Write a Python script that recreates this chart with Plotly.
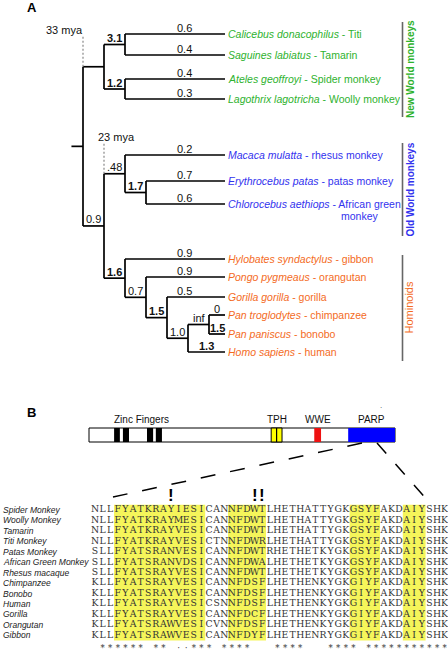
import plotly.graph_objects as go

W, H = 448, 649

# ======================= DATA =======================
# ---- Panel A: phylogeny (leaves listed top to bottom) ----
leaf_species = ["Calicebus donacophilus", "Saguines labiatus", "Ateles geoffroyi",
                "Lagothrix lagotricha", "Macaca mulatta", "Erythrocebus patas",
                "Chlorocebus aethiops", "Hylobates syndactylus", "Pongo pygmeaus",
                "Gorilla gorilla", "Pan troglodytes", "Pan paniscus", "Homo sapiens"]
leaf_common = ["Titi", "Tamarin", "Spider monkey", "Woolly monkey", "rhesus monkey",
               "patas monkey", "African green monkey", "gibbon", "orangutan", "gorilla",
               "chimpanzee", "bonobo", "human"]
leaf_clade = [0, 0, 0, 0, 1, 1, 1, 2, 2, 2, 2, 2, 2]
leaf_omega = ["0.6", "0.4", "0.4", "0.3", "0.2", "0.7", "0.6", "0.9", "0.9", "0.5", "0", "1.5", "1.3"]
leaf_omega_bold = [False] * 11 + [True, True]

clade_names = ["New World monkeys", "Old World monkeys", "Hominoids"]

# internal nodes: (omega on the branch leading to node, bold?, divergence time, children)
node_inf = ("inf", False, None, [10, 11])
node_10 = ("1.0", False, None, [node_inf, 12])
node_15 = ("1.5", True, None, [9, node_10])
node_07 = ("0.7", False, None, [8, node_15])
node_hom = ("1.6", True, None, [7, node_07])
node_17 = ("1.7", True, None, [5, 6])
node_owm = (".48", False, None, [4, node_17])
node_cat = ("0.9", False, "23 mya", [node_owm, node_hom])
node_31 = ("3.1", True, None, [0, 1])
node_12 = ("1.2", True, None, [2, 3])
node_nwm = (None, False, None, [node_31, node_12])
TREE = (None, False, "33 mya", [node_nwm, node_cat])

# ---- Panel B: domain architecture (amino-acid positions, estimated) ----
protein_length = 902
domain_labels = ["Zinc Fingers", "TPH", "WWE", "PARP"]
dom_start = [74, 100, 171, 197, 537, 664, 764]
dom_end = [91, 118, 189, 215, 569, 684, 902]
dom_kind = [0, 0, 0, 0, 1, 2, 3]

# ---- Panel B: alignment ----
align_names = ["Spider Monkey", "Woolly Monkey", "Tamarin", "Titi Monkey", "Patas Monkey",
               "African Green Monkey", "Rhesus macaque", "Chimpanzee", "Bonobo", "Human",
               "Gorilla", "Orangutan", "Gibbon"]
align_seqs = [
    "NLLFYATKRAYIESICANNFDWTLHETHATTYGKGSYFAKDAIYSHK",
    "NLLFYATKRAYMESICANNFDWTLHETHATTYGKGSYFAKDAIYSHK",
    "NLLFYATKRAYVESICANNFDWTLHETHATTYGKGSYFAKDAIYSHK",
    "NLLFYATKRAYVESICTNNFDWRLHETHATTYGKGSYFAKDAIYSHK",
    "SLLFYATSRANVESICANNFDWTRHETHETKYGKGSYFAKDAIYSHK",
    "SLLFYATSRANVDSICANNFDWALHETHETKYGKGSYFAKDAIYSHK",
    "SLLFYATSRAYVESICANNFDWTLHETHETKYGKGSYFAKDAIYSHK",
    "KLLFYATSRAYVESICANNFDSFLHETHENKYGKGIYFAKDAIYSHK",
    "KLLFYATSRAYVESICANNFDSFLHETHENKYGKGIYFAKDAIYSHK",
    "KLLFYATSRAYVESICSNNFDSFLHETHENKYGKGIYFAKDAIYSHK",
    "KLLFYATSRAYVESICANNFDCFLHETHENKYGKGIYFAKDAIYSHK",
    "KLLFYATSRAWVESICVNNFDSFLHETHENKYGKGIYFAKDAIYSHK",
    "KLLFYATSRAWVESICANNFDYFLHETHENRYGKGIYFAKDAIYSHK",
]
consensus = (" " + "******" + " " + "**" + " " + "::" + "***" + " " + "****" + "   "
             + "****" + "   " + "****" + " " + "***********")
highlight_blocks = [(4, 15), (19, 23), (35, 38), (42, 44)]
selected_sites = [11, 22, 23]

# ======================= STYLE / LAYOUT CONSTANTS =======================
SANS = "Liberation Sans, Arial, sans-serif"
SEQF = "DejaVu Serif, serif"
clade_colors = ["#2eb22e", "#3232ee", "#f46b1e"]
clade_bold = [True, True, False]
clade_bar_px = [(22, 117), (143, 236), (255, 361)]
clade_text_x = [410.5, 410, 408.5]

TREE_PX0, TREE_STEP = 83.0, 21.0        # depth 0 at px 83, 21 px per level
LEAF_TIP = (225 - TREE_PX0) / TREE_STEP
leaf_y = [34, 55, 79, 99, 155, 181, 204, 259, 277, 297, 315, 334, 352]
MYA_DX = {"33 mya": -19, "23 mya": 12}

COL_PX0, COL_STEP = 95.0, 7.6
ROW_PX0, ROW_STEP = 510.0, 10.44
AA_PX0, AA_PX1 = 89.0, 395.0
AA_STEP = (AA_PX1 - AA_PX0) / protein_length
DOM_Y0, DOM_Y1 = 428, 442

fig = go.Figure()
annotations = []
shapes = []


def ann(x, y, text, xref, yref, size, color="#111", bold=False, italic=False,
        xanchor="center", yanchor="middle", family=SANS, xshift=0, yshift=0, textangle=0):
    if italic:
        text = "<i>" + text + "</i>"
    if bold:
        text = "<b>" + text + "</b>"
    annotations.append(dict(x=x, y=y, xref=xref, yref=yref, text=text, showarrow=False,
                            font=dict(family=family, size=size, color=color),
                            xanchor=xanchor, yanchor=yanchor, xshift=xshift, yshift=yshift,
                            textangle=textangle, borderpad=0))


# ======================= PANEL A: TREE =======================
seg_x, seg_y = [], []
dot_x, dot_y = [], []


def draw(node, depth):
    label, bold, age, kids = node
    ys = []
    for k in kids:
        if isinstance(k, int):
            y = leaf_y[k]
            seg_x.extend([depth, LEAF_TIP, None]); seg_y.extend([y, y, None])
            node_px = TREE_PX0 + depth * TREE_STEP
            lx = (184 - TREE_PX0) / TREE_STEP if node_px < 180 else (depth + LEAF_TIP) / 2
            ann(lx, y, leaf_omega[k], "x2", "y", 11, bold=leaf_omega_bold[k], yshift=6)
        else:
            y = draw(k, depth + 1)
            seg_x.extend([depth, depth + 1, None]); seg_y.extend([y, y, None])
            if k[0]:
                ann(depth + 1, y, k[0], "x2", "y", 11, bold=k[1], xanchor="right",
                    xshift=-2, yshift=6.5)
        ys.append(y)
    top, bot = min(ys), max(ys)
    seg_x.extend([depth, depth, None]); seg_y.extend([top, bot, None])
    if age:
        dot_x.extend([depth, depth, None]); dot_y.extend([top, top - 30, None])
        ann(depth, top - 37, age, "x2", "y", 11, xshift=MYA_DX[age])
    return (top + bot) / 2


root_y = draw(TREE, 0)
seg_x.extend([-0.55, 0, None]); seg_y.extend([root_y, root_y, None])

fig.add_trace(go.Scatter(x=seg_x, y=seg_y, mode="lines", xaxis="x2", yaxis="y",
                         line=dict(color="black", width=1.7), hoverinfo="skip"))
fig.add_trace(go.Scatter(x=dot_x, y=dot_y, mode="lines", xaxis="x2", yaxis="y",
                         line=dict(color="#888888", width=1.2, dash="2px,2px"), hoverinfo="skip"))

# leaf names
for i, (sp, cm) in enumerate(zip(leaf_species, leaf_common)):
    col = clade_colors[leaf_clade[i]]
    full = f"<i>{sp}</i> - {cm}"
    if len(sp) + len(cm) + 3 > 40:
        first, last = cm.rsplit(" ", 1)
        ann(LEAF_TIP, leaf_y[i], f"<i>{sp}</i> - {first}", "x2", "y", 10.5, color=col,
            xanchor="left", xshift=2)
        ann(LEAF_TIP, leaf_y[i] + 12, last, "x2", "y", 10.5, color=col, xshift=135)
    else:
        ann(LEAF_TIP, leaf_y[i], full, "x2", "y", 10.5, color=col, xanchor="left", xshift=2)

# clade bars & labels
for c, name in enumerate(clade_names):
    y0, y1 = clade_bar_px[c]
    shapes.append(dict(type="line", xref="x", yref="y", x0=402.5, x1=402.5, y0=y0, y1=y1,
                       line=dict(color="#666666", width=1.6)))
    ann(clade_text_x[c], (y0 + y1) / 2, name, "x", "y", 10 if c < 2 else 11,
        color=clade_colors[c], bold=clade_bold[c], textangle=-90)

ann(32, 7, "A", "x", "y", 13, color="black", bold=True)
ann(31, 412, "B", "x", "y", 13, color="black", bold=True)

# ======================= PANEL B: DOMAINS =======================
shapes.append(dict(type="rect", xref="x4", yref="y", x0=0, x1=protein_length, y0=DOM_Y0, y1=DOM_Y1,
                   line=dict(color="black", width=1), fillcolor="white", layer="below"))
dom_fill = ["black", "#ffff00", "#ee1111", "#0000ff"]
for s, e, k in zip(dom_start, dom_end, dom_kind):
    shapes.append(dict(type="rect", xref="x4", yref="y", x0=s, x1=e, y0=DOM_Y0, y1=DOM_Y1,
                       line=dict(color="black" if k == 1 else dom_fill[k], width=1 if k == 1 else 0),
                       fillcolor=dom_fill[k]))
    if k == 1:
        m = (s + e) / 2
        shapes.append(dict(type="line", xref="x4", yref="y", x0=m, x1=m, y0=DOM_Y0, y1=DOM_Y1,
                           line=dict(color="black", width=1.2)))
for k, lab in enumerate(domain_labels):
    ss = [s for s, kk in zip(dom_start, dom_kind) if kk == k]
    ee = [e for e, kk in zip(dom_end, dom_kind) if kk == k]
    ann((min(ss) + max(ee)) / 2, 419, lab, "x4", "y", 10, color="#111", xshift=3 if k == 0 else 0)
ann(381, 405, ".", "x", "y", 8, color="#444")

# zoom lines from PARP domain to alignment
shapes.append(dict(type="line", xref="x", yref="y", x0=362, y0=443, x1=113, y1=497,
                   line=dict(color="black", width=1.5, dash="15px,15px")))
shapes.append(dict(type="line", xref="x", yref="y", x0=377, y0=443, x1=428, y1=501,
                   line=dict(color="black", width=1.5, dash="14px,14px")))

# ======================= PANEL B: ALIGNMENT =======================
n_rows = len(align_seqs)
for c0, c1 in highlight_blocks:
    shapes.append(dict(type="rect", xref="x3", yref="y3", x0=c0 - 0.5, x1=c1 + 0.5,
                       y0=-0.5, y1=n_rows - 0.5, line=dict(width=0), fillcolor="#f5f55a",
                       layer="below"))

for r, seq in enumerate(align_seqs):
    fig.add_trace(go.Scatter(x=list(range(1, len(seq) + 1)), y=[r] * len(seq), text=list(seq),
                             mode="text", xaxis="x3", yaxis="y3", cliponaxis=False,
                             textposition="middle center",
                             textfont=dict(family=SEQF, size=9.3, color="#333333"),
                             hoverinfo="skip"))
    ann(1 - (COL_PX0 - 2) / COL_STEP, r, align_names[r], "x3", "y3", 8.5, color="#222",
        italic=True, xanchor="left")

cons_cols = [i + 1 for i, ch in enumerate(consensus) if ch != " "]
cons_txt = [ch for ch in consensus if ch != " "]
fig.add_trace(go.Scatter(x=cons_cols, y=[n_rows + 0.3] * len(cons_cols), text=cons_txt,
                         mode="text", xaxis="x3", yaxis="y3", cliponaxis=False,
                         textfont=dict(family=SEQF, size=8.5, color="#333333"), hoverinfo="skip"))

for c in selected_sites:
    ann(c, -1.35, "!", "x3", "y3", 17, color="black", bold=True)

# ======================= AXES =======================
ax = dict(visible=False, showgrid=False, zeroline=False, fixedrange=True)
fig.update_layout(
    width=W, height=H, margin=dict(l=0, r=0, t=0, b=0, pad=0),
    paper_bgcolor="white", plot_bgcolor="rgba(0,0,0,0)", showlegend=False,
    xaxis=dict(range=[0, W], domain=[0, 1], **ax),
    yaxis=dict(range=[H, 0], domain=[0, 1], **ax),
    xaxis2=dict(range=[-TREE_PX0 / TREE_STEP, (W - TREE_PX0) / TREE_STEP],
                overlaying="x", anchor="y", **ax),
    xaxis3=dict(range=[1 - COL_PX0 / COL_STEP, 1 + (W - COL_PX0) / COL_STEP],
                overlaying="x", anchor="y3", **ax),
    yaxis3=dict(range=[(H - ROW_PX0) / ROW_STEP, -ROW_PX0 / ROW_STEP],
                overlaying="y", anchor="x3", **ax),
    xaxis4=dict(range=[-AA_PX0 / AA_STEP, (W - AA_PX0) / AA_STEP],
                overlaying="x", anchor="y", **ax),
    annotations=annotations, shapes=shapes,
)

fig.write_html("out.html", config={"displayModeBar": False},
               post_script="document.body.style.margin='0px';document.body.style.overflow='hidden';")
